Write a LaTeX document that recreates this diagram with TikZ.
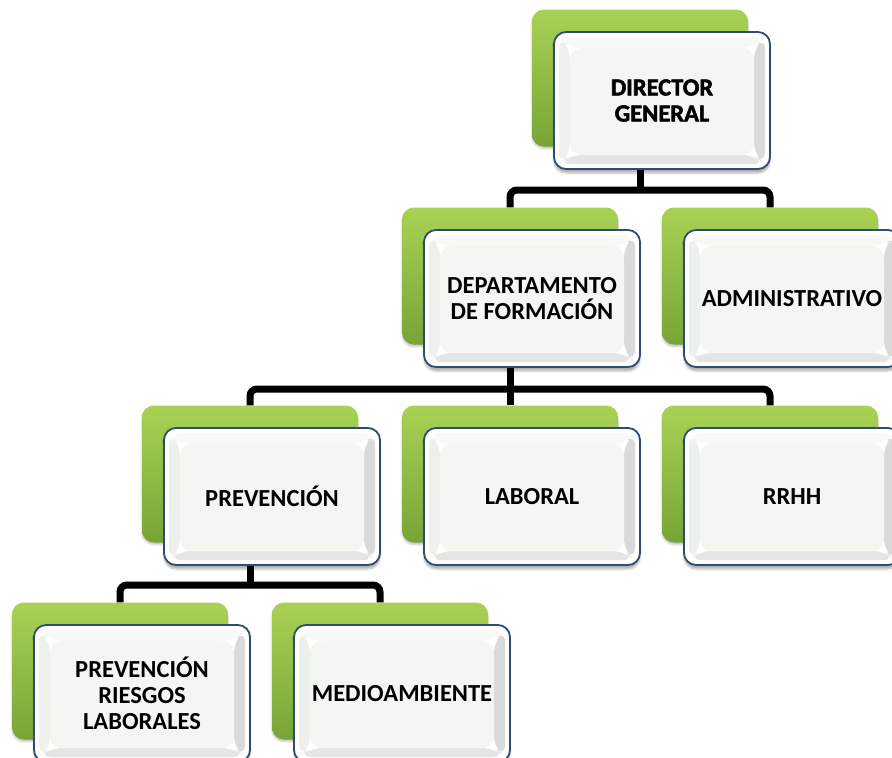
\documentclass[tikz,border=0pt]{standalone}
\usepackage{fontspec}
\setmainfont{Carlito}
\usetikzlibrary{shadows,shadows.blur,calc}
\definecolor{gtop}{HTML}{A9D254}
\definecolor{gbot}{HTML}{77A436}
\definecolor{bord}{HTML}{2E4C76}
\definecolor{face}{HTML}{F4F6F1}
\definecolor{bandR}{HTML}{DADADA}
\definecolor{bandB}{HTML}{E5E5E5}
\definecolor{bandT}{HTML}{F8F9F6}
\definecolor{bandL}{HTML}{EEF0EC}
\tikzset{
  greenbox/.style={rounded corners=12pt, minimum width=216pt, minimum height=137pt,
    top color=gtop, bottom color=gbot, draw=none, inner sep=0pt,
    blur shadow={shadow xshift=0pt, shadow yshift=-2pt, shadow opacity=25}},
  bevel/.style={path picture={
    \coordinate (bvA) at ($(path picture bounding box.south west)+(5pt,5pt)$);
    \coordinate (bvB) at ($(path picture bounding box.north east)+(-5pt,-5pt)$);
    \coordinate (bva) at ($(bvA)+(11pt,9pt)$);
    \coordinate (bvb) at ($(bvB)+(-11pt,-11pt)$);
    \fill[bandT] (bvA |- bvB) -- (bvB) -- (bvb) -- (bva |- bvb) -- cycle;
    \fill[bandR] (bvB) -- (bvB |- bvA) -- (bvb |- bva) -- (bvb) -- cycle;
    \fill[bandB] (bvB |- bvA) -- (bvA) -- (bva) -- (bvb |- bva) -- cycle;
    \fill[bandL] (bvA) -- (bvA |- bvB) -- (bva |- bvb) -- (bva) -- cycle;
    \fill[face] (bva) rectangle (bvb);
  }},
  whitebox/.style={rounded corners=12pt, minimum width=216pt, minimum height=137pt,
    draw=bord, line width=1.8pt, fill=white, inner sep=0pt, align=center,
    font=\bfseries\fontsize{24.5}{26}\selectfont,
    blur shadow={shadow xshift=0pt, shadow yshift=-4pt, shadow opacity=30},
    bevel},
  conn/.style={line width=7pt, draw=black},
}
\begin{document}
\begin{tikzpicture}[x=1pt,y=-1pt]
\useasboundingbox (0,0) rectangle (892,758);
\clip (0,0) rectangle (892,758);
% green back panels
\node[greenbox] (dgG)   at (640,78)  {};
\node[greenbox] (depG)  at (510,276) {};
\node[greenbox] (admG)  at (770,276) {};
\node[greenbox] (prevG) at (250,474) {};
\node[greenbox] (labG)  at (510,474) {};
\node[greenbox] (rrhhG) at (770,474) {};
\node[greenbox] (prlG)  at (120,671) {};
\node[greenbox] (medG)  at (380,671) {};
% connectors
\coordinate (bus1) at (640,190);
\coordinate (bus2) at (510,389);
\coordinate (bus3) at (250,585);
\draw[conn] (dgG.south) -- (bus1);
\draw[conn, rounded corners=7pt] (depG.north) |- (bus1) -| (admG.north);
\draw[conn] (depG.south) -- (labG.north);
\draw[conn, rounded corners=7pt] (prevG.north) |- (bus2) -| (rrhhG.north);
\draw[conn] (prevG.south) -- (bus3);
\draw[conn, rounded corners=7pt] (prlG.north) |- (bus3) -| (medG.north);
% front boxes
\node[whitebox, font=\bfseries\fontsize{24.5}{26}\selectfont\addfontfeature{FakeBold=2.2}] (dg) at (662,100.5) {DIRECTOR\\GENERAL};
\node[whitebox] (dep)  at (532,298.5) {DEPARTAMENTO\\DE FORMACIÓN};
\node[whitebox] (adm)  at (792,298.5) {ADMINISTRATIVO};
\node[whitebox] (prev) at (272,496.5) {PREVENCIÓN};
\node[whitebox] (lab)  at (532,496.5) {LABORAL};
\node[whitebox] (rrhh) at (792,496.5) {RRHH};
\node[whitebox] (prl)  at (142,693.5) {PREVENCIÓN\\RIESGOS\\LABORALES};
\node[whitebox] (med)  at (402,693.5) {MEDIOAMBIENTE};
\end{tikzpicture}
\end{document}
